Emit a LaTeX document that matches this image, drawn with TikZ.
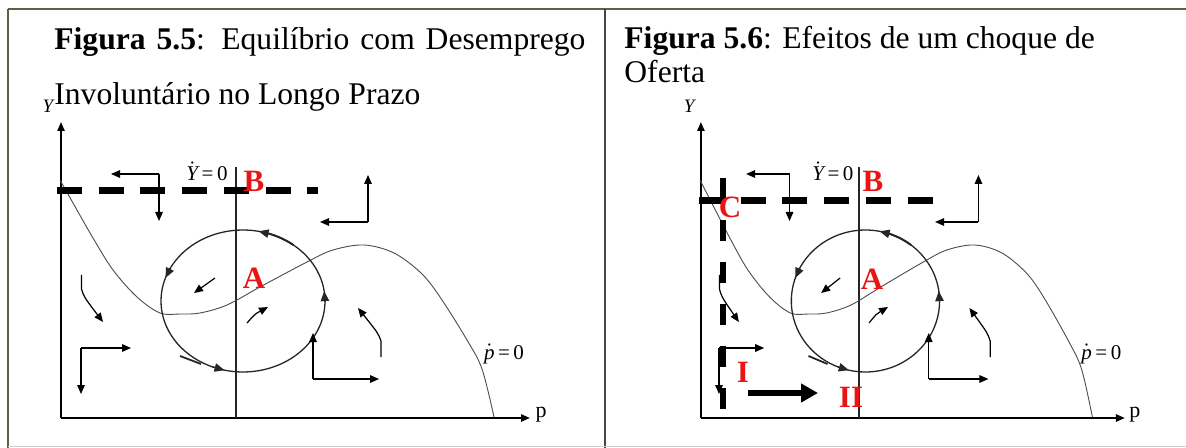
\documentclass[tikz,border=0pt]{standalone}
\usepackage{fontspec}
\setmainfont{Liberation Serif}
\usetikzlibrary{arrows.meta}
\definecolor{frameolive}{RGB}{96,96,62}
\definecolor{framegray}{RGB}{70,70,70}
\definecolor{bottomgray}{RGB}{205,205,205}
\definecolor{labred}{RGB}{235,20,20}
\newcommand\orbarrow[1]{\draw[orbit,-{Triangle[length=5pt,width=4.2pt]}] ({243+82*cos(#1-9)},{301-71*sin(#1-9)}) -- ({243+82*cos(#1)},{301-71*sin(#1)});}
\newcommand\phasepanel{%
  % axes and guide line
  \draw[axisline] (61,418) -- (61,122);
  \draw[axisline] (61,418) -- (530,418);
  \draw[guide] (236,167) -- (236,418);
  % p-dot = 0 curve
  \draw[scurve] plot[smooth,tension=0.55] coordinates {(60,180) (73,203) (93,238) (113,270) (137,297) (160,313) (180,314) (200,313) (227,305) (260,287) (307,262) (333,250) (364,245) (394,253) (421,273) (440,297) (467,340) (482,369) (494,417)};
  % orbit around A
  \draw[orbit] plot[domain=0:360,samples=120] ({243+82*cos(\x)},{301-71*sin(\x)});
  \draw[orbit,line width=1pt] plot[domain=52:72,samples=12] ({243+82*cos(\x)},{301-71*sin(\x)});
  \draw[orbit,line width=0.9pt] (180,356) -- (201,364);
  \orbarrow{79}
  \orbarrow{161}
  \orbarrow{257}
  \orbarrow{8}
  % elbow arrows
  \draw[flow] (159,174) -- (111,174);
  \draw[flow] (159,174) -- (159,221);
  \draw[flow] (368,222) -- (368,175);
  \draw[flow] (368,222) -- (320,222);
  \draw[flow] (81,348) -- (131,348);
  \draw[flow] (81,348) -- (81,394);
  \draw[flow] (313,379) -- (313,333);
  \draw[flow] (313,379) -- (379,379);
  % curved arrows
  \draw[flow] (81.5,275) -- (81.5,289) .. controls (84,297) .. (103,322);
  \draw[flow] (381,357) -- (381,341) .. controls (378,333) .. (358,308);
  % small arrows inside the orbit
  \draw[flow] (215,278) -- (194,293);
  \draw[flow] (247,323) .. controls (255,314) .. (268,307);
  % labels
  \node[smalllab,font=\fontsize{9.5pt}{11pt}\selectfont\itshape] (ylab) at (48,106) {Y};
  \node[smalllab,font=\fontsize{11pt}{13pt}\selectfont] (plab) at (541,415) {p};
  \node[smalllab] (ydot) at (207,171) {$\dot{\mbox{\itshape Y}}$\,=\,0};
  \node[smalllab] (pdot) at (504,354) {$\dot{\mbox{\itshape p}}$\,=\,0};
}
\begin{document}
\begin{tikzpicture}[x=0.5pt,y=-0.5pt,
  axisline/.style={line width=1pt,-{Triangle[length=4.5pt,width=3.6pt]}},
  guide/.style={line width=0.7pt,draw=black!85},
  scurve/.style={line width=0.45pt,draw=black!70},
  orbit/.style={line width=0.65pt,draw=black!85},
  flow/.style={line width=0.6pt,-{Triangle[length=4.5pt,width=3.8pt]}},
  dashY/.style={line width=3.5pt,dash pattern=on 12.5pt off 8.35pt},
  dashV/.style={line width=3.3pt,dash pattern=on 10.5pt off 10.5pt},
  bigarrow/.style={line width=3pt,-{Triangle[length=8.5pt,width=9pt]}},
  redlab/.style={text=labred,font=\fontsize{15.5pt}{18pt}\selectfont\bfseries,inner sep=0pt},
  smalllab/.style={font=\fontsize{10.5pt}{12pt}\selectfont,inner sep=0pt},
  titletxt/.style={font=\fontsize{15.8pt}{19pt}\selectfont,inner sep=0pt,anchor=base west}]
\useasboundingbox (0,0) rectangle (1186,448);
\fill[white] (0,0) rectangle (1186,448);
% frame
\draw[frameolive,line width=1.1pt] (8,9) -- (1186,9);
\draw[frameolive,line width=1.1pt] (8,9) -- (8,448);
\draw[framegray,line width=1pt] (605,9) -- (605,448);
\draw[bottomgray,line width=0.8pt] (8,446.5) -- (1186,446.5);
% titles
\node[titletxt] (t1) at (54,50) {\makebox[265.5pt][s]{\textbf{Figura 5.5}: Equilíbrio com Desemprego}};
\node[titletxt] (t2) at (54,105) {Involuntário no Longo Prazo};
\node[titletxt] (t3) at (624,49) {\textbf{Figura 5.6}: Efeitos de um choque de};
\node[titletxt] (t4) at (624,83) {Oferta};
% left panel
\begin{scope}[name prefix=L-]
  \phasepanel
\end{scope}
\draw[dashY] (57,191) -- (318,191);
\node[redlab] (LB) at (254,181) {B};
\node[redlab] (LA) at (254,278) {A};
% right panel
\begin{scope}[shift={(645.76,0)},xscale=0.904,name prefix=R-]
  \phasepanel
\end{scope}
\draw[dashY] (699,201) -- (933,201);
\draw[dashV] (723,178) -- (723,410);
\node[redlab] (RB) at (873,181) {B};
\node[redlab] (RA) at (872,279) {A};
\node[redlab] (RC) at (730,207) {C};
\node[redlab] (RI) at (743,372) {I};
\node[redlab] (RII) at (851,397) {II};
\coordinate (shockstart) at (748,393);
\coordinate (shockend) at (818,393);
\draw[bigarrow] (shockstart) -- (shockend);
\end{tikzpicture}
\end{document}
